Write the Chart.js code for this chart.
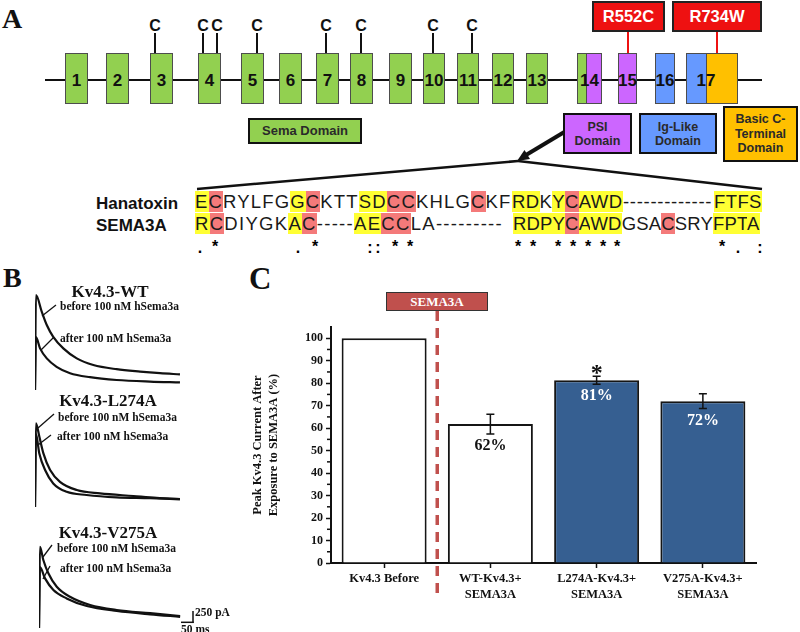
<!DOCTYPE html>
<html>
<head>
<meta charset="utf-8">
<script src="https://cdn.jsdelivr.net/npm/chart.js@4.4.1/dist/chart.umd.min.js"></script>
<style>
  body { margin: 0; background: #fff; }
  #fig { position: relative; width: 800px; height: 632px; overflow: hidden; background: #fff;
         font-family: "Liberation Sans", Arial, sans-serif; color: #111; }
  #fig > * { position: absolute; }
  .serif { font-family: "Liberation Serif", "Times New Roman", serif; font-weight: bold; line-height: 1; white-space: nowrap; }
  .sans { font-family: "Liberation Sans", Arial, sans-serif; font-weight: bold; line-height: 1; white-space: nowrap; }
  .exon { top: 53px; height: 51px; box-sizing: border-box; border: 1px solid #4d4d4d; display: flex;
          align-items: center; justify-content: center; padding-top: 5px; font: bold 17px "Liberation Sans", Arial, sans-serif; color: #111; }
  .dom { box-sizing: border-box; border: 2px solid #111; display: flex; flex-direction: column; align-items: center;
         justify-content: center; font: bold 12.5px/14px "Liberation Sans", Arial, sans-serif; color: #2a2a2a; text-align: center; }
  .mut { box-sizing: border-box; border: 2px solid #222; background: #ee1111; color: #fff; display: flex; align-items: center;
         justify-content: center; font: bold 16.5px "Liberation Sans", Arial, sans-serif; }
  .seq { font: 18.5px/21px "Liberation Sans", Arial, sans-serif; white-space: pre; color: #1a1a1a; }
  .y { background: #ffff33; }
  .r { background: #f47a7a; }
  .mark { font: bold 16px/1 "Liberation Sans", Arial, sans-serif; width: 12px; text-align: center; color: #000; }
</style>
</head>
<body>
<div id="fig">
  <svg id="lines" width="800" height="632" style="left:0;top:0"></svg>
</div>
<script>
"use strict";

// ---- panel C data ----
const conditions = [["Kv4.3 Before"], ["WT-Kv4.3+", "SEMA3A"], ["L274A-Kv4.3+", "SEMA3A"], ["V275A-Kv4.3+", "SEMA3A"]];
const peakCurrent = [100, 61.8, 81.3, 72.0];
const peakError = [0, 4.4, 1.8, 3.3];
const peakText = ["", "62%", "81%", "72%"];
const starred = [false, false, true, false];

// ---- panel B traces (time in ms, current in pA) ----
const wtBeforeMs = [0, 4, 28, 49, 76, 118, 174, 243, 340, 438, 521, 604];
const wtBeforePa = [0, 2375, 1960, 1625, 1330, 1040, 790, 625, 520, 460, 420, 390];
const wtAfterMs = [0, 4, 21, 49, 90, 146, 229, 340, 479, 604];
const wtAfterPa = [0, 1320, 1040, 790, 580, 420, 320, 250, 210, 190];
const l274BeforeMs = [0, 4, 18, 35, 63, 104, 174, 271, 410, 507, 604];
const l274BeforePa = [0, 2090, 1760, 1340, 925, 630, 425, 340, 275, 230, 200];
const l274AfterMs = [0, 4, 18, 42, 76, 132, 215, 340, 479, 604];
const l274AfterPa = [0, 1820, 1340, 925, 590, 380, 300, 240, 220, 190];
const v275BeforeMs = [0, 4, 18, 39, 74, 129, 213, 324, 463, 588];
const v275BeforePa = [0, 2030, 1700, 1370, 1030, 780, 575, 450, 370, 300];
const v275AfterMs = [0, 4, 25, 60, 115, 199, 324, 463, 588];
const v275AfterPa = [0, 1520, 1240, 950, 740, 550, 425, 340, 280];

// ---- panel A schematic ----
const exonLeft = [65, 106, 150, 198, 241, 279, 316, 350, 389, 423, 457, 492, 526, 577, 618, 655, 686];
const exonWidth = [23, 23, 23, 23, 23, 23, 23, 23, 23, 22, 22, 22, 22, 25, 19, 20, 52];
const cysX = [155, 203, 217, 257, 326, 361, 433, 472];
// alignment pieces: [left, letter spacing, residues, highlight marks]
const hanatoxin = [
  [195, 1.17, "ECRYLFGGCKTTSDCCKHLGCKF", "yr-----yr---yyrr----r--"],
  [512, 0.4, "RDKYCAWD", "yy-yryyy"],
  [623, 0.7, "-------------", "-------------"],
  [714, 0.4, "FTFS", "yyyy"]
];
const sema3a = [
  [195, 1.3, "RCDIYGKAC-----AECCLA---------", "yr-----yr-----yyrr-----------"],
  [513, 0.17, "RDPYCAWDGSACSRYFPTA", "yyyyryyy---r---yyyy"]
];
const consensus = [[200, "."], [215, "*"], [298, "."], [315, "*"], [370, ":"], [378, ":"], [395, "*"], [410, "*"],
  [518, "*"], [533, "*"], [558, "*"], [573, "*"], [588, "*"], [603, "*"], [617, "*"], [722, "*"], [738, "."], [760, ":"]];

const GREEN = "#92d050", PURPLE = "#cc66ff", BLUE = "#6699ff", ORANGE = "#ffc000";
const fig = document.getElementById("fig");
const svg = document.getElementById("lines");

function add(html) {
  fig.insertAdjacentHTML("beforeend", html);
}
function line(x1, y1, x2, y2, w, color) {
  svg.insertAdjacentHTML("beforeend",
    `<line x1="${x1}" y1="${y1}" x2="${x2}" y2="${y2}" stroke="${color || "#111"}" stroke-width="${w}"/>`);
}

// panel letters
add(`<div class="serif" style="left:2px;top:5px;font-size:28px">A</div>`);
add(`<div class="serif" style="left:3px;top:264px;font-size:28px">B</div>`);
add(`<div class="serif" style="left:249px;top:263px;font-size:31px">C</div>`);

// backbone, cysteines, mutations
line(45, 80, 762, 80, 2.2);
cysX.forEach(x => {
  line(x, 33, x, 54, 2);
  add(`<div class="sans" style="left:${x}px;top:18px;font-size:16px;transform:translateX(-50%)">C</div>`);
});
exonLeft.forEach((x, i) => {
  let bg = GREEN, pad = "";
  if (i === 13) bg = `linear-gradient(to right, ${GREEN} 0 8px, #4d4d4d 8px 9px, ${PURPLE} 9px)`;
  if (i === 14) bg = PURPLE;
  if (i === 15) bg = BLUE;
  if (i === 16) { bg = `linear-gradient(to right, ${BLUE} 0 19px, #4d4d4d 19px 20px, ${ORANGE} 20px)`; pad = "padding-right:12px;"; }
  add(`<div class="exon" style="left:${x}px;width:${exonWidth[i]}px;background:${bg};${pad}">${i + 1}</div>`);
});
line(628, 31, 628, 54, 2, "#ee1111");
line(717, 31, 717, 54, 2, "#ee1111");
add(`<div class="mut" style="left:592px;top:1px;width:73px;height:31px">R552C</div>`);
add(`<div class="mut" style="left:672px;top:1px;width:90px;height:31px">R734W</div>`);

// domain legend boxes
add(`<div class="dom" style="left:248px;top:118px;width:114px;height:26px;background:${GREEN};font-size:13px">Sema Domain</div>`);
add(`<div class="dom" style="left:563px;top:113px;width:69px;height:41px;background:${PURPLE}">PSI<br>Domain</div>`);
add(`<div class="dom" style="left:639px;top:113px;width:78px;height:41px;background:${BLUE}">Ig-Like<br>Domain</div>`);
add(`<div class="dom" style="left:723px;top:106px;width:75px;height:56px;background:${ORANGE};line-height:14.5px">Basic C-<br>Terminal<br>Domain</div>`);

// arrow and zoom lines
line(566, 131, 526, 155, 4);
svg.insertAdjacentHTML("beforeend", `<polygon points="517,161 530,159 524.5,150" fill="#111"/>`);
line(518, 161, 197, 189, 2.5);
line(518, 161, 762, 189, 2.5);

// alignment
function seqRow(pieces, top) {
  pieces.forEach(([left, ls, text, marks]) => {
    let html = "";
    for (let i = 0; i < text.length; i++) {
      const m = marks[i];
      html += m === "y" || m === "r" ? `<span class="${m}">${text[i]}</span>` : text[i];
    }
    add(`<div class="seq" style="left:${left}px;top:${top}px;letter-spacing:${ls}px">${html}</div>`);
  });
}
add(`<div class="sans" style="left:96px;top:194.5px;font-size:17px">Hanatoxin</div>`);
add(`<div class="sans" style="left:96px;top:216.5px;font-size:17px">SEMA3A</div>`);
seqRow(hanatoxin, 191);
seqRow(sema3a, 213);
consensus.forEach(([x, s]) => {
  const top = s === "*" ? 239 : 240;
  add(`<div class="mark" style="left:${x - 6}px;top:${top}px">${s}</div>`);
});

// ---- panel B ----
function pts(ms, pa) {
  return ms.map((t, i) => ({ x: t, y: pa[i] }));
}
function traceChart(left, base, before, after) {
  const c = document.createElement("canvas");
  c.width = 154; c.height = 104;
  c.style.left = (left - 2) + "px";
  c.style.top = (base - 102) + "px";
  fig.appendChild(c);
  const ds = d => ({ data: d, borderColor: "#111", borderWidth: 2.2, pointRadius: 0, cubicInterpolationMode: "monotone" });
  new Chart(c, {
    type: "line",
    data: { datasets: [ds(before), ds(after)] },
    options: {
      responsive: false, animation: false, events: [],
      layout: { padding: 2 },
      plugins: { legend: { display: false }, tooltip: { enabled: false } },
      scales: {
        x: { type: "linear", display: false, min: 0, max: 625 },
        y: { display: false, min: 0, max: 2500 }
      }
    }
  });
}
traceChart(35, 390, pts(wtBeforeMs, wtBeforePa), pts(wtAfterMs, wtAfterPa));
traceChart(35, 507, pts(l274BeforeMs, l274BeforePa), pts(l274AfterMs, l274AfterPa));
traceChart(39, 628, pts(v275BeforeMs, v275BeforePa), pts(v275AfterMs, v275AfterPa));

function note(text, x, top, size) {
  add(`<div class="serif" style="left:${x}px;top:${top}px;font-size:${size}px">${text}</div>`);
}
add(`<div class="serif" style="left:110px;top:283px;font-size:17px;transform:translateX(-50%)">Kv4.3-WT</div>`);
add(`<div class="serif" style="left:108px;top:392px;font-size:17px;transform:translateX(-50%)">Kv4.3-L274A</div>`);
add(`<div class="serif" style="left:108px;top:524px;font-size:17px;transform:translateX(-50%)">Kv4.3-V275A</div>`);
note("before 100 nM hSema3a", 60, 301, 11.5);
note("after 100 nM hSema3a", 60, 333, 11.5);
note("before 100 nM hSema3a", 58, 411.5, 11.5);
note("after 100 nM hSema3a", 57, 431, 11.5);
note("before 100 nM hSema3a", 57, 543, 11.5);
note("after 100 nM hSema3a", 60, 563, 11.5);
line(42, 316, 56, 305, 1.3);
line(41, 350, 54, 337, 1.3);
line(38, 428, 54, 414, 1.3);
line(38, 445, 51, 435, 1.3);
line(43, 557, 52, 545, 1.3);
line(43, 579, 50, 566, 1.3);
// scale bar: 250 pA vertical, 50 ms horizontal
line(193, 611, 193, 623, 1.5);
line(181, 622.3, 193.7, 622.3, 1.5);
note("250 pA", 195, 607, 11.5);
note("50 ms", 181, 624, 11.5);

// ---- panel C ----
add(`<canvas id="barChart" width="570" height="352" style="left:230px;top:280px"></canvas>`);
add(`<div class="serif" style="left:386px;top:292px;width:102px;height:19px;box-sizing:border-box;border:1.5px solid #333;background:#c0504d;color:#fff;font-size:13px;display:flex;align-items:center;justify-content:center">SEMA3A</div>`);

const SERIF = "'Liberation Serif', 'Times New Roman', serif";

const barExtras = {
  id: "barExtras",
  afterDatasetsDraw(chart) {
    const { ctx, chartArea, scales: { x, y } } = chart;
    ctx.save();
    // minor ticks
    ctx.strokeStyle = "#111";
    ctx.lineWidth = 1.5;
    for (let v = 5; v < 100; v += 10) {
      const py = y.getPixelForValue(v);
      ctx.beginPath();
      ctx.moveTo(chartArea.left - 4, py);
      ctx.lineTo(chartArea.left - 1, py);
      ctx.stroke();
    }
    // error bars and value labels
    peakCurrent.forEach((v, i) => {
      const px = x.getPixelForValue(i);
      const e = peakError[i];
      if (e > 0) {
        const t = y.getPixelForValue(v + e), b = y.getPixelForValue(v - e);
        ctx.strokeStyle = "#111";
        ctx.lineWidth = 1.5;
        ctx.beginPath();
        ctx.moveTo(px, t); ctx.lineTo(px, b);
        ctx.moveTo(px - 4, t); ctx.lineTo(px + 4, t);
        ctx.moveTo(px - 4, b); ctx.lineTo(px + 4, b);
        ctx.stroke();
      }
      if (peakText[i]) {
        ctx.font = `bold 16px ${SERIF}`;
        ctx.fillStyle = i < 2 ? "#111" : "#fff";
        ctx.textAlign = "center";
        ctx.textBaseline = "middle";
        ctx.fillText(peakText[i], px, y.getPixelForValue(v - e) + 12);
      }
      if (starred[i]) {
        ctx.font = `bold 24px ${SERIF}`;
        ctx.fillStyle = "#111";
        ctx.textAlign = "center";
        ctx.textBaseline = "alphabetic";
        ctx.fillText("*", px, y.getPixelForValue(v + e) + 4);
      }
    });
    // treatment divider
    const dx = (x.getPixelForValue(0) + x.getPixelForValue(1)) / 2;
    ctx.strokeStyle = "#c0504d";
    ctx.lineWidth = 3.5;
    ctx.setLineDash([10, 7]);
    ctx.beginPath();
    ctx.moveTo(dx, chartArea.top - 16);
    ctx.lineTo(dx, chartArea.bottom + 32);
    ctx.stroke();
    ctx.setLineDash([]);
    // y axis title
    ctx.translate(chartArea.left - 73, (chartArea.top + chartArea.bottom) / 2);
    ctx.rotate(-Math.PI / 2);
    ctx.font = `bold 12.5px ${SERIF}`;
    ctx.fillStyle = "#111";
    ctx.textAlign = "center";
    ctx.textBaseline = "middle";
    ctx.fillText("Peak Kv4.3 Current After", 0, 0);
    ctx.fillText("Exposure to SEMA3A (%)", 0, 15.5);
    ctx.restore();
  }
};

new Chart(document.getElementById("barChart"), {
  type: "bar",
  data: {
    labels: conditions,
    datasets: [{
      data: peakCurrent,
      backgroundColor: ["#ffffff", "#ffffff", "#365f91", "#365f91"],
      borderColor: "#151515",
      borderWidth: 2,
      barPercentage: 0.8,
      categoryPercentage: 1.0
    }]
  },
  options: {
    responsive: false,
    animation: false,
    events: [],
    layout: { padding: { top: 47, right: 44, left: 0, bottom: 0 } },
    plugins: { legend: { display: false }, tooltip: { enabled: false } },
    scales: {
      x: {
        afterFit(scale) { scale.height = 69; },
        border: { color: "#111", width: 2 },
        grid: { drawOnChartArea: false, offset: false, tickLength: 5, color: "#111", tickWidth: 1.5 },
        ticks: { color: "#111", font: { family: SERIF, weight: "bold", size: 12.5, lineHeight: 1.28 }, padding: 3, maxRotation: 0 }
      },
      y: {
        min: 0,
        max: 105,
        afterFit(scale) { scale.width = 101; },
        border: { color: "#111", width: 2 },
        grid: {
          drawOnChartArea: false, tickLength: 5, tickWidth: 1.5,
          tickColor: c => (c.tick && c.tick.value % 10 === 0 ? "#111" : "rgba(0,0,0,0)")
        },
        ticks: {
          stepSize: 5,
          includeBounds: false,
          padding: 3,
          color: "#111",
          font: { family: SERIF, weight: "bold", size: 12 },
          callback: v => (v % 10 === 0 ? v : "")
        }
      }
    }
  },
  plugins: [barExtras]
});
</script>
</body>
</html>
